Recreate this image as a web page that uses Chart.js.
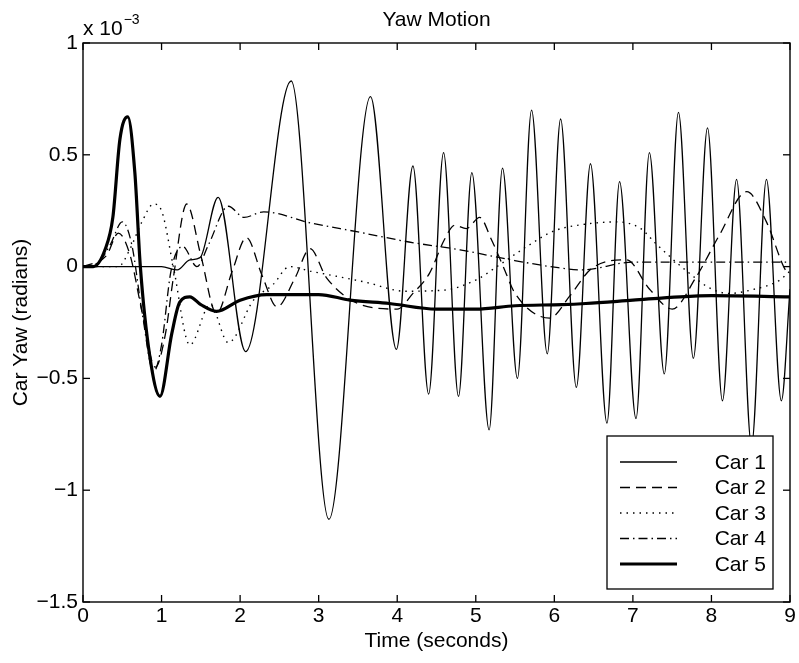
<!DOCTYPE html>
<html>
<head>
<meta charset="utf-8">
<title>Yaw Motion</title>
<script src="https://cdn.jsdelivr.net/npm/chart.js@4.4.1/dist/chart.umd.min.js"></script>
<style>
  html, body { margin: 0; padding: 0; background: #fff; }
  canvas { display: block; }
</style>
</head>
<body>
<canvas id="grafico" width="799" height="663"></canvas>
<script>
// Tick labels of both axes
var xTickLabels = ["0", "1", "2", "3", "4", "5", "6", "7", "8", "9"];
var yTickLabels = ["\u22121.5", "\u22121", "\u22120.5", "0", "0.5", "1"];

// Legend names
var carNames = ["Car 1", "Car 2", "Car 3", "Car 4", "Car 5"];

// Car 1 (thin solid) - time in seconds, yaw in 1e-3 radians
var car1Time = [0, 1.0, 1.2, 1.36, 1.49, 1.72, 2.07, 2.65, 3.13, 3.66, 3.99, 4.2, 4.4, 4.59, 4.78, 4.95, 5.17, 5.34, 5.53, 5.71, 5.91, 6.08, 6.28, 6.46, 6.67, 6.83, 7.04, 7.21, 7.4, 7.58, 7.77, 7.95, 8.14, 8.32, 8.51, 8.7, 8.89, 9.0];
var car1Yaw = [0, 0, -0.015, 0.03, 0.04, 0.31, -0.38, 0.83, -1.13, 0.76, -0.37, 0.45, -0.57, 0.51, -0.58, 0.42, -0.73, 0.44, -0.5, 0.7, -0.39, 0.66, -0.54, 0.46, -0.7, 0.38, -0.68, 0.51, -0.48, 0.69, -0.41, 0.62, -0.6, 0.39, -0.8, 0.39, -0.6, -0.1];

// Car 2 (dashed)
var car2Time = [0, 0.3, 0.45, 0.6, 0.75, 0.92, 1.05, 1.15, 1.32, 1.5, 1.7, 1.9, 2.08, 2.28, 2.47, 2.7, 2.89, 3.1, 3.5, 4.0, 4.2, 4.41, 4.6, 4.73, 4.88, 5.05, 5.2, 5.35, 5.5, 5.94, 6.2, 6.47, 6.92, 7.21, 7.5, 7.8, 8.1, 8.45, 8.7, 8.95, 9.0];
var car2Yaw = [0, 0.05, 0.15, 0.05, -0.2, -0.45, -0.3, -0.05, 0.28, 0.05, -0.21, -0.02, 0.13, -0.04, -0.18, -0.05, 0.08, -0.05, -0.165, -0.19, -0.12, -0.03, 0.12, 0.185, 0.17, 0.22, 0.12, 0, -0.12, -0.23, -0.13, -0.01, 0.03, -0.1, -0.19, -0.05, 0.14, 0.335, 0.2, -0.02, -0.03];

// Car 3 (dotted)
var car3Time = [0, 0.45, 0.6, 0.75, 0.9, 1.0, 1.15, 1.36, 1.62, 1.85, 2.17, 2.42, 2.63, 2.89, 3.18, 3.6, 4.1, 4.6, 5.0, 5.27, 5.65, 6.0, 6.4, 6.8, 7.1, 7.3, 7.72, 8.0, 8.23, 8.5, 8.87, 9.0];
var car3Yaw = [0, 0, 0.08, 0.2, 0.28, 0.25, 0, -0.35, -0.17, -0.34, -0.15, -0.08, 0, -0.02, -0.04, -0.07, -0.11, -0.105, -0.06, 0, 0.09, 0.16, 0.19, 0.2, 0.17, 0.1, -0.03, -0.1, -0.12, -0.105, -0.06, -0.02];

// Car 4 (dash-dot)
var car4Time = [0, 0.2, 0.35, 0.5, 0.62, 0.75, 0.9, 1.0, 1.12, 1.27, 1.45, 1.6, 1.85, 2.05, 2.3, 2.9, 3.5, 4.15, 4.8, 5.45, 6.05, 6.35, 7.0, 8.0, 9.0];
var car4Yaw = [0, 0.02, 0.1, 0.2, 0.1, -0.2, -0.47, -0.35, -0.02, 0.09, 0, 0.1, 0.27, 0.22, 0.245, 0.195, 0.155, 0.11, 0.075, 0.03, -0.005, -0.015, 0.02, 0.02, 0.02];

// Car 5 (thick solid)
var car5Time = [0, 0.13, 0.28, 0.38, 0.47, 0.57, 0.66, 0.73, 0.85, 0.98, 1.13, 1.23, 1.36, 1.5, 1.7, 2.0, 2.34, 3.0, 3.4, 3.9, 4.5, 5.0, 5.5, 6.1, 6.4, 7.0, 7.6, 8.0, 9.0];
var car5Yaw = [0, 0, 0.075, 0.22, 0.57, 0.67, 0.42, 0, -0.4, -0.58, -0.3, -0.16, -0.135, -0.17, -0.2, -0.15, -0.125, -0.125, -0.15, -0.165, -0.19, -0.19, -0.175, -0.17, -0.165, -0.15, -0.135, -0.13, -0.135];

var fonte = "'Liberation Sans', Arial, Helvetica, sans-serif";
Chart.defaults.font.family = fonte;
Chart.defaults.color = "#000";

// Joins a time array and a yaw array into {x, y} points
function montarPontos(tempos, valores) {
  var pontos = [];
  for (var i = 0; i < tempos.length; i++) {
    pontos.push({ x: tempos[i], y: valores[i] });
  }
  return pontos;
}

// Line styles of each car (dash pattern and width)
var estilos = [
  { dash: [], width: 1.3 },
  { dash: [10, 6], width: 1.3 },
  { dash: [1.5, 5], width: 1.4 },
  { dash: [9, 4, 1.5, 4], width: 1.3 },
  { dash: [], width: 3.2 },
];

var series = [
  montarPontos(car1Time, car1Yaw),
  montarPontos(car2Time, car2Yaw),
  montarPontos(car3Time, car3Yaw),
  montarPontos(car4Time, car4Yaw),
  montarPontos(car5Time, car5Yaw),
];

var datasets = series.map(function (pontos, i) {
  return {
    label: carNames[i],
    data: pontos,
    borderColor: "#000",
    borderWidth: estilos[i].width,
    borderDash: estilos[i].dash,
    pointRadius: 0,
    fill: false,
    cubicInterpolationMode: "monotone",
  };
});

// Draws a line segment
function linha(ctx, x1, y1, x2, y2) {
  ctx.beginPath();
  ctx.moveTo(x1, y1);
  ctx.lineTo(x2, y2);
  ctx.stroke();
}

// Plugin for the MATLAB style box, inner ticks, title, exponent and legend
var quadroMatlab = {
  id: "quadroMatlab",
  afterDraw: function (chart) {
    var ctx = chart.ctx;
    var area = chart.chartArea;
    var escalaX = chart.scales.x;
    var escalaY = chart.scales.y;
    var meioX = (area.left + area.right) / 2;

    ctx.save();
    ctx.strokeStyle = "#000";
    ctx.fillStyle = "#000";
    ctx.lineWidth = 1.4;
    ctx.setLineDash([]);

    // Box around the plot
    ctx.strokeRect(area.left, area.top, area.right - area.left, area.bottom - area.top);

    // Ticks pointing inwards on all four sides
    ctx.lineWidth = 1.3;
    escalaX.ticks.forEach(function (t) {
      var px = escalaX.getPixelForValue(t.value);
      linha(ctx, px, area.bottom, px, area.bottom - 7);
      linha(ctx, px, area.top, px, area.top + 7);
    });
    escalaY.ticks.forEach(function (t) {
      var py = escalaY.getPixelForValue(t.value);
      linha(ctx, area.left, py, area.left + 7, py);
      linha(ctx, area.right, py, area.right - 7, py);
    });

    // Title
    ctx.font = "21px " + fonte;
    ctx.textAlign = "center";
    ctx.textBaseline = "alphabetic";
    ctx.fillText("Yaw Motion", meioX, 26);

    // Exponent of the y axis
    ctx.textAlign = "left";
    ctx.fillText("x 10", area.left, 35);
    var largura = ctx.measureText("x 10").width;
    ctx.font = "14px " + fonte;
    ctx.fillText("\u22123", area.left + largura + 1, 24);

    // Legend box
    var caixa = { left: 607, top: 436, right: 773, bottom: 589 };
    ctx.fillStyle = "#fff";
    ctx.fillRect(caixa.left, caixa.top, caixa.right - caixa.left, caixa.bottom - caixa.top);
    ctx.lineWidth = 1.3;
    ctx.strokeRect(caixa.left, caixa.top, caixa.right - caixa.left, caixa.bottom - caixa.top);

    ctx.fillStyle = "#000";
    ctx.font = "21px " + fonte;
    ctx.textAlign = "right";
    ctx.textBaseline = "middle";
    chart.data.datasets.forEach(function (ds, i) {
      var y = 462 + i * 25.5;
      ctx.lineWidth = ds.borderWidth;
      ctx.setLineDash(ds.borderDash);
      linha(ctx, 620, y, 677, y);
      ctx.setLineDash([]);
      ctx.fillText(ds.label, 766, y + 1);
    });

    ctx.restore();
  },
};

// Creates the chart
var ctx = document.getElementById("grafico").getContext("2d");
var grafico = new Chart(ctx, {
  type: "line",
  data: { datasets: datasets },
  options: {
    responsive: false,
    animation: false,
    layout: { padding: { top: 43, right: 9, left: 0, bottom: 0 } },
    plugins: {
      legend: { display: false },
      tooltip: { enabled: false },
    },
    scales: {
      x: {
        type: "linear",
        min: 0,
        max: 9,
        grid: { display: false, drawTicks: false },
        border: { display: false },
        ticks: {
          stepSize: 1,
          padding: 2,
          maxRotation: 0,
          font: { size: 21 },
          callback: function (valor, indice) {
            return xTickLabels[indice];
          },
        },
        title: {
          display: true,
          text: "Time (seconds)",
          font: { size: 21 },
          padding: { top: 0, bottom: 9 },
        },
        afterFit: function (escala) {
          escala.height = 61;
        },
      },
      y: {
        type: "linear",
        min: -1.5,
        max: 1,
        grid: { display: false, drawTicks: false },
        border: { display: false },
        ticks: {
          stepSize: 0.5,
          padding: 5,
          font: { size: 21 },
          callback: function (valor, indice) {
            return yTickLabels[indice];
          },
        },
        title: {
          display: true,
          text: "Car Yaw (radians)",
          font: { size: 21 },
          padding: { top: 9, bottom: 0 },
        },
        afterFit: function (escala) {
          escala.width = 83;
        },
      },
    },
  },
  plugins: [quadroMatlab],
});
</script>
</body>
</html>
